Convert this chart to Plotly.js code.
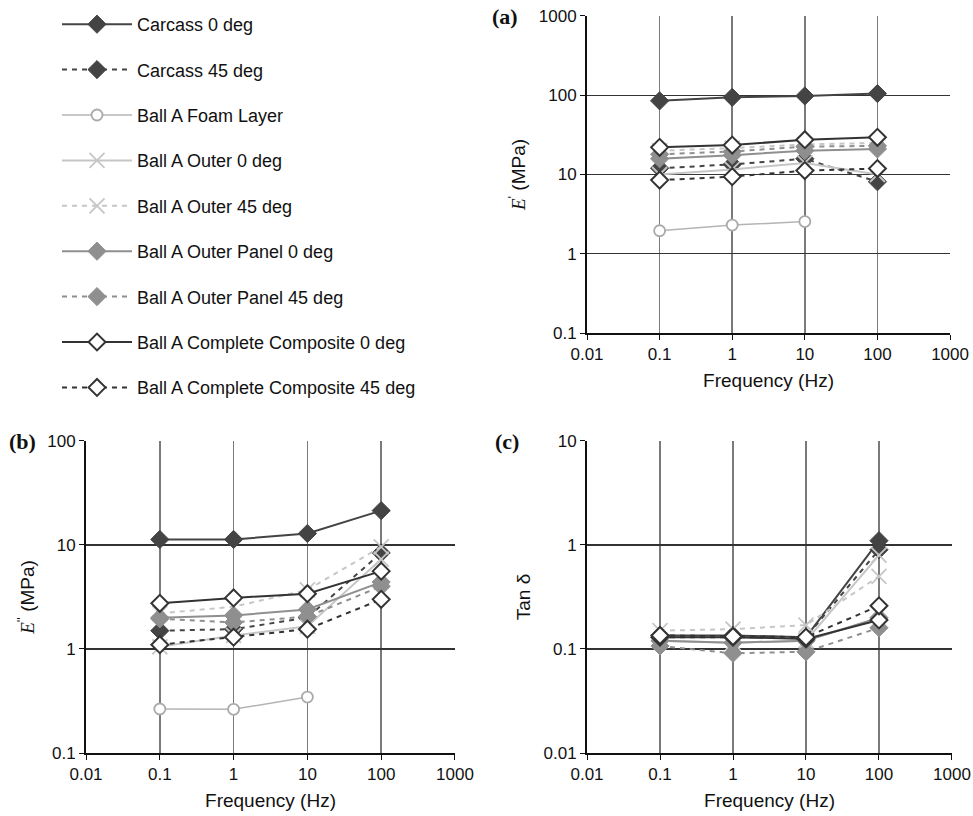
<!DOCTYPE html>
<html>
<head>
<meta charset="utf-8">
<script src="https://cdn.plot.ly/plotly-3.0.1.min.js"></script>
<style>html,body{margin:0;padding:0;background:#fff;}#chart{width:973px;height:816px;}</style>
</head>
<body>
<div id="chart"></div>
<script>
// ---- data ----
const freq = [0.1, 1, 10, 100];
const freqFoam = [0.1, 1, 10];
const seriesNames = ["Carcass 0 deg","Carcass 45 deg","Ball A Foam Layer","Ball A Outer 0 deg","Ball A Outer 45 deg","Ball A Outer Panel 0 deg","Ball A Outer Panel 45 deg","Ball A Complete Composite 0 deg","Ball A Complete Composite 45 deg"];

// (a) E' storage modulus (MPa)
const eStorageCarcass0 = [85, 94, 98, 105];
const eStorageCarcass45 = [12, 13.4, 15.8, 8.1];
const eStorageFoam = [1.95, 2.3, 2.55];
const eStorageOuter0 = [10, 11.6, 14, 10];
const eStorageOuter45 = [20, 21.5, 24, 25];
const eStoragePanel0 = [15.8, 17.5, 20, 21];
const eStoragePanel45 = [18, 19.5, 22.5, 23];
const eStorageComp0 = [22, 23.5, 27.5, 29.5];
const eStorageComp45 = [8.5, 9.4, 11.2, 11.9];

// (b) E'' loss modulus (MPa)
const eLossCarcass0 = [11.3, 11.3, 12.9, 21.4];
const eLossCarcass45 = [1.5, 1.55, 2.0, 8.4];
const eLossFoam = [0.265, 0.263, 0.345];
const eLossOuter0 = [1.05, 1.35, 1.65, 7.3];
const eLossOuter45 = [2.2, 2.55, 3.7, 9.6];
const eLossPanel0 = [2.0, 2.1, 2.4, 4.4];
const eLossPanel45 = [1.95, 1.8, 2.05, 4.0];
const eLossComp0 = [2.75, 3.1, 3.4, 5.6];
const eLossComp45 = [1.1, 1.3, 1.55, 3.0];

// (c) tan delta
const tanCarcass0 = [0.135, 0.135, 0.13, 1.1];
const tanCarcass45 = [0.13, 0.13, 0.13, 0.9];
const tanOuter0 = [0.12, 0.115, 0.12, 0.8];
const tanOuter45 = [0.15, 0.155, 0.17, 0.5];
const tanPanel0 = [0.12, 0.115, 0.12, 0.2];
const tanPanel45 = [0.107, 0.091, 0.094, 0.16];
const tanComp0 = [0.13, 0.13, 0.125, 0.19];
const tanComp45 = [0.135, 0.132, 0.13, 0.26];

const xTickVals = [0.01, 0.1, 1, 10, 100, 1000];
const xTickText = ["0.01", "0.1", "1", "10", "100", "1000"];
const yTickValsA = [0.1, 1, 10, 100, 1000];
const yTickTextA = ["0.1", "1", "10", "100", "1000"];
const yTickValsB = [0.1, 1, 10, 100];
const yTickTextB = ["0.1", "1", "10", "100"];
const yTickValsC = [0.01, 0.1, 1, 10];
const yTickTextC = ["0.01", "0.1", "1", "10"];

// ---- styles ----
const styles = [
  {line:{color:'#444', width:2, dash:'solid'}, marker:{symbol:'diamond', size:14, color:'#444', line:{color:'#444', width:1}}},
  {line:{color:'#444', width:2, dash:'5px,5px'}, marker:{symbol:'diamond', size:14, color:'#444', line:{color:'#444', width:1}}},
  {line:{color:'#b4b4b4', width:1.5, dash:'solid'}, marker:{symbol:'circle', size:11, color:'#fff', line:{color:'#aaa', width:1.8}}},
  {line:{color:'#c6c6c6', width:2, dash:'solid'}, marker:{symbol:'x-thin-open', size:15, color:'#c6c6c6', line:{color:'#c6c6c6', width:1.8}}},
  {line:{color:'#c6c6c6', width:2, dash:'5px,5px'}, marker:{symbol:'x-thin-open', size:15, color:'#c6c6c6', line:{color:'#c6c6c6', width:1.8}}},
  {line:{color:'#8f8f8f', width:2, dash:'solid'}, marker:{symbol:'diamond', size:14, color:'#8f8f8f', line:{color:'#8f8f8f', width:1}}},
  {line:{color:'#8f8f8f', width:2, dash:'5px,5px'}, marker:{symbol:'diamond', size:14, color:'#8f8f8f', line:{color:'#8f8f8f', width:1}}},
  {line:{color:'#333', width:2, dash:'solid'}, marker:{symbol:'diamond', size:13, color:'#fff', line:{color:'#333', width:2}}},
  {line:{color:'#333', width:2, dash:'5px,5px'}, marker:{symbol:'diamond', size:13, color:'#fff', line:{color:'#333', width:2}}}
];

const panelA = [eStorageCarcass0, eStorageCarcass45, eStorageFoam, eStorageOuter0, eStorageOuter45, eStoragePanel0, eStoragePanel45, eStorageComp0, eStorageComp45];
const panelB = [eLossCarcass0, eLossCarcass45, eLossFoam, eLossOuter0, eLossOuter45, eLossPanel0, eLossPanel45, eLossComp0, eLossComp45];
const panelC = [tanCarcass0, tanCarcass45, null, tanOuter0, tanOuter45, tanPanel0, tanPanel45, tanComp0, tanComp45];

const traces = [];
function addPanel(vals, xa, ya, legend) {
  vals.forEach((v, i) => {
    if (!v) return;
    traces.push({
      type:'scatter', mode:'lines+markers',
      x: (i === 2 ? freqFoam : freq), y: v,
      xaxis: xa, yaxis: ya,
      name: seriesNames[i], legendgroup: 'g' + i, showlegend: legend,
      line: styles[i].line, marker: styles[i].marker
    });
  });
}
addPanel(panelA, 'x', 'y', true);
addPanel(panelB, 'x2', 'y2', false);
addPanel(panelC, 'x3', 'y3', false);

const font = 'Liberation Sans, Arial, sans-serif';
function xAxis(domain, anchor) {
  return {type:'log', domain: domain, anchor: anchor, range:[-2, 3],
    tickvals: xTickVals, ticktext: xTickText, showgrid:true, gridcolor:'#7a7a7a', gridwidth:1.5,
    showline:true, linecolor:'#111', linewidth:2, ticks:'outside', ticklen:5, tickcolor:'#111',
    tickfont:{family:font, size:17, color:'#111'},
    title:{text:'Frequency (Hz)', font:{family:font, size:19, color:'#111'}, standoff:10},
    zeroline:false};
}
function yAxis(domain, anchor, range, tv, tt, title) {
  return {type:'log', domain: domain, anchor: anchor, range: range,
    tickvals: tv, ticktext: tt, showgrid:true, gridcolor:'#333', gridwidth:1.2,
    showline:true, linecolor:'#111', linewidth:2, ticks:'outside', ticklen:5, tickcolor:'#111',
    tickfont:{family:font, size:17, color:'#111'},
    title:{text:title, font:{family:font, size:19, color:'#111'}, standoff:8},
    zeroline:false};
}

const layout = {
  width:973, height:816, margin:{l:0, r:0, t:0, b:0},
  paper_bgcolor:'#fff', plot_bgcolor:'#fff',
  font:{family:font, color:'#111'},
  xaxis: xAxis([0.6033, 0.9764], 'y'),
  yaxis: yAxis([0.5919, 0.9804], 'x', [-1, 3], yTickValsA, yTickTextA, '<span style="font-family:Liberation Serif;font-style:italic">E</span><sup>\'</sup> (MPa)'),
  xaxis2: xAxis([0.0884, 0.4676], 'y2'),
  yaxis2: yAxis([0.0772, 0.4596], 'x2', [-1, 2], yTickValsB, yTickTextB, '<span style="font-family:Liberation Serif;font-style:italic">E</span><sup>\'\'</sup> (MPa)'),
  xaxis3: xAxis([0.6033, 0.9784], 'y3'),
  yaxis3: yAxis([0.0772, 0.4596], 'x3', [-2, 1], yTickValsC, yTickTextC, 'Tan δ'),
  showlegend: true,
  legend:{x:57/973, y:1-6/816, xanchor:'left', yanchor:'top', font:{family:font, size:18, color:'#111'},
    itemwidth:70, tracegroupgap:19, bgcolor:'rgba(0,0,0,0)', traceorder:'grouped'},
  annotations:[
    {text:'<b>(a)</b>', xref:'paper', yref:'paper', x:505/973, y:1-16/816, showarrow:false, xanchor:'center', yanchor:'middle', font:{family:'Liberation Serif, serif', size:22, color:'#111'}},
    {text:'<b>(b)</b>', xref:'paper', yref:'paper', x:22/973, y:1-441/816, showarrow:false, xanchor:'center', yanchor:'middle', font:{family:'Liberation Serif, serif', size:22, color:'#111'}},
    {text:'<b>(c)</b>', xref:'paper', yref:'paper', x:507/973, y:1-441/816, showarrow:false, xanchor:'center', yanchor:'middle', font:{family:'Liberation Serif, serif', size:22, color:'#111'}}
  ]
};

Plotly.newPlot('chart', traces, layout, {staticPlot:true});
</script>
</body>
</html>
